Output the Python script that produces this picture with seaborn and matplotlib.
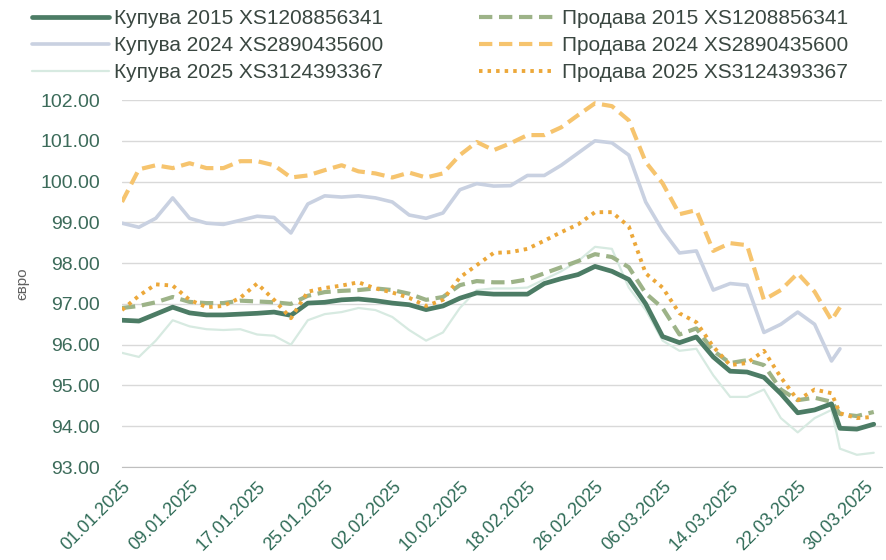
import matplotlib
matplotlib.use("Agg")
import matplotlib.pyplot as plt
import matplotlib.dates as mdates
import seaborn as sns
import numpy as np
import pandas as pd

# day offsets from 01.01.2025
days = [0, 2, 4, 6, 8, 10, 12, 14, 16, 18, 20, 22, 24, 26, 28, 30, 32, 34, 36, 38,
        40, 42, 44, 46, 48, 50, 52, 54, 56, 58, 60, 62, 64, 66, 68, 70, 72, 74, 76, 78,
        80, 82, 84, 85, 87, 89]

buy_2015 = [96.60, 96.58, 96.75, 96.92, 96.78, 96.73, 96.73, 96.75, 96.77, 96.80,
            96.72, 97.02, 97.04, 97.10, 97.12, 97.08, 97.02, 96.98, 96.86, 96.95,
            97.14, 97.27, 97.24, 97.24, 97.24, 97.50, 97.62, 97.72, 97.92, 97.80,
            97.60, 97.00, 96.20, 96.05, 96.19, 95.70, 95.35, 95.33, 95.20, 94.80,
            94.33, 94.40, 94.55, 93.95, 93.93, 94.05]
buy_2024 = [98.98, 98.88, 99.10, 99.60, 99.10, 98.98, 98.95, 99.05, 99.15, 99.12,
            98.74, 99.45, 99.65, 99.62, 99.65, 99.60, 99.50, 99.18, 99.10, 99.23,
            99.80, 99.95, 99.89, 99.90, 100.15, 100.15, 100.40, 100.70, 101.00, 100.95,
            100.65, 99.50, 98.80, 98.25, 98.30, 97.34, 97.50, 97.46, 96.30, 96.50,
            96.80, 96.50, 95.60, 95.90, np.nan, np.nan]
buy_2025 = [95.80, 95.70, 96.10, 96.60, 96.45, 96.38, 96.36, 96.38, 96.25, 96.22,
            96.00, 96.60, 96.75, 96.80, 96.90, 96.85, 96.68, 96.36, 96.10, 96.30,
            96.90, 97.34, 97.38, 97.38, 97.40, 97.60, 97.80, 98.05, 98.40, 98.35,
            97.40, 96.85, 96.10, 95.85, 95.90, 95.25, 94.72, 94.72, 94.90, 94.20,
            93.85, 94.20, 94.40, 93.45, 93.30, 93.35]
sell_2015 = [96.90, 96.95, 97.04, 97.17, 97.05, 97.02, 97.02, 97.08, 97.06, 97.04,
             97.00, 97.20, 97.29, 97.32, 97.34, 97.38, 97.34, 97.25, 97.10, 97.17,
             97.46, 97.56, 97.53, 97.53, 97.60, 97.75, 97.90, 98.05, 98.22, 98.15,
             97.90, 97.26, 96.90, 96.25, 96.40, 95.85, 95.55, 95.62, 95.50, 94.90,
             94.64, 94.70, 94.60, 94.30, 94.25, 94.35]
sell_2024 = [99.50, 100.30, 100.40, 100.33, 100.45, 100.33, 100.33, 100.50, 100.50, 100.40,
             100.10, 100.15, 100.28, 100.40, 100.25, 100.20, 100.10, 100.22, 100.10, 100.20,
             100.65, 100.97, 100.77, 100.94, 101.14, 101.14, 101.33, 101.63, 101.92, 101.85,
             101.50, 100.48, 99.96, 99.20, 99.30, 98.30, 98.49, 98.44, 97.10, 97.34,
             97.75, 97.30, 96.60, 96.92, np.nan, np.nan]
sell_2025 = [96.85, 97.20, 97.48, 97.45, 97.10, 96.92, 96.95, 97.15, 97.50, 97.10,
             96.65, 97.30, 97.39, 97.45, 97.53, 97.38, 97.28, 97.15, 96.95, 97.10,
             97.65, 97.95, 98.25, 98.27, 98.35, 98.55, 98.76, 98.95, 99.25, 99.25,
             98.90, 97.75, 97.40, 96.77, 96.55, 95.95, 95.50, 95.55, 95.85, 95.20,
             94.64, 94.90, 94.81, 94.32, 94.20, 94.23]

labels = ["Купува 2015 XS1208856341", "Купува 2024 XS2890435600", "Купува 2025 XS3124393367",
          "Продава 2015 XS1208856341", "Продава 2024 XS2890435600", "Продава 2025 XS3124393367"]

dates = pd.Timestamp("2025-01-01") + pd.to_timedelta(days, unit="D")

sns.set_style("white")
plt.rcParams['font.family'] = ['Liberation Sans', 'DejaVu Sans']

fig = plt.figure(figsize=(8.86, 5.6), dpi=100)
ax = fig.add_axes([0.1377, 0.166, 0.858, 0.6554])

series = [
    (buy_2024, "#c9d1e1", 2.6, "-"),
    (buy_2025, "#d7eae1", 1.6, "-"),
    (sell_2024, "#f6c46e", 3.0, (0, (3.2, 1.6))),
    (sell_2015, "#9db388", 3.0, (0, (3.2, 1.6))),
    (buy_2015, "#4c7c65", 3.4, "-"),
    (sell_2025, "#eca83a", 2.8, (0, (0.9, 1.3))),
]
order = [1, 2, 4, 3, 0, 5]
handles = {}
for (vals, col, lw, ls), idx in zip(series, order):
    sns.lineplot(x=dates, y=vals, ax=ax, color=col, linewidth=lw, linestyle=ls,
                 label=labels[idx])
    handles[idx] = ax.get_lines()[-1]
ax.get_legend().remove()

ax.set_ylim(93, 102)
ax.set_xlim(pd.Timestamp("2025-01-01"), pd.Timestamp("2025-04-01"))
ax.set_yticks(np.arange(93, 102.1, 1))
ax.yaxis.set_major_formatter(matplotlib.ticker.FormatStrFormatter("%.2f"))
tick_dates = pd.Timestamp("2025-01-01") + pd.to_timedelta(list(range(0, 89, 8)), unit="D")
ax.set_xticks(tick_dates)
ax.xaxis.set_major_formatter(mdates.DateFormatter("%d.%m.%Y"))

ax.grid(axis="y", color="#d9d9d9", linewidth=1)
ax.grid(axis="x", visible=False)
for s in ["left", "right", "top"]:
    ax.spines[s].set_visible(False)
ax.spines["bottom"].set_color("#bfbfbf")
ax.tick_params(axis="x", direction="out", length=6, color="#bfbfbf", labelsize=13,
               labelcolor="#2f6b57", pad=2)
ax.tick_params(axis="y", length=0, labelsize=14, labelcolor="#3c6b5a", pad=16)
plt.setp(ax.get_xticklabels(), rotation=45, ha="right", rotation_mode="anchor")
ax.set_xlabel("")
ax.set_ylabel("євро", fontsize=11, color="#606060", labelpad=8)

fig.legend([handles[i] for i in range(6)], labels, loc="upper left", ncol=2,
           bbox_to_anchor=(0.036, 0.984), frameon=False, fontsize=15,
           handlelength=3.7, labelspacing=0.38, columnspacing=4.6,
           labelcolor="#3a4741", handletextpad=0.25, borderpad=0, borderaxespad=0)

fig.savefig("out.png", dpi=100)
